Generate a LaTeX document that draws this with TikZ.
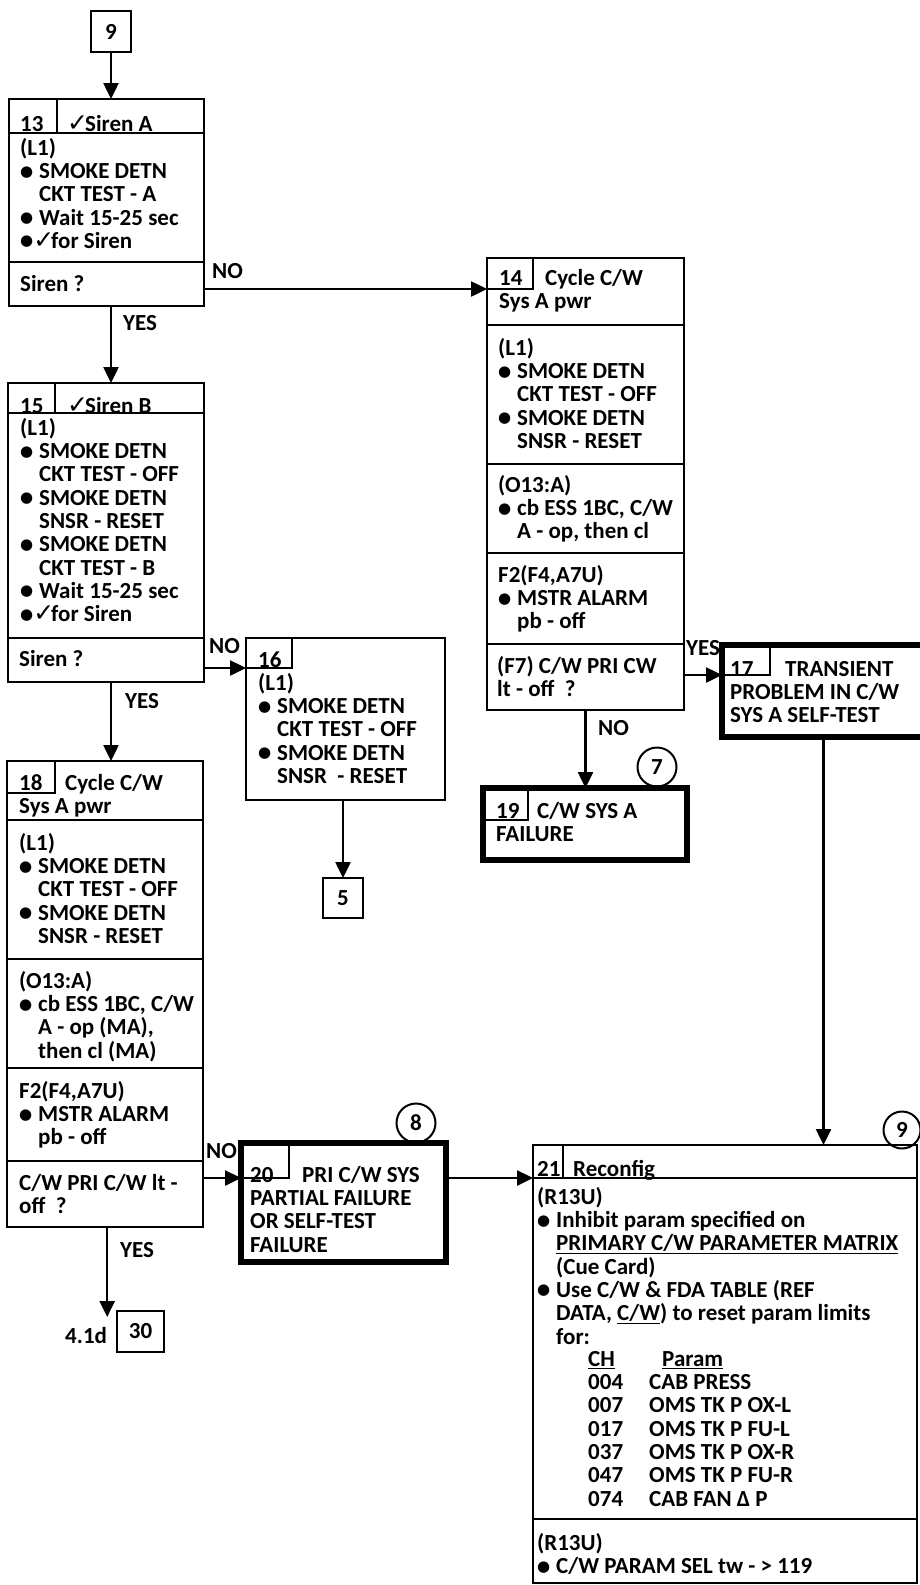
\documentclass[tikz,border=0pt]{standalone}
\usepackage{fontspec}
\setmainfont{Carlito}
\newfontfamily\symf{DejaVu Sans}
\usetikzlibrary{arrows.meta}
\newlength\itw \setlength\itw{19pt}
\newcommand\mybul{\raisebox{2.5pt}{\symf\fontsize{15}{15}\selectfont ●}}
\newcommand\mychk{{\symf\fontsize{25}{23}\selectfont ✓}\kern-3pt}
\newcommand\bitem[1]{\makebox[\itw][l]{\mybul}#1}
\newcommand\citem[1]{\hspace*{\itw}#1}
\newcommand\tst{\rule{0pt}{18pt}}
\begin{document}
\begin{tikzpicture}[x=1pt,y=-1pt,
  ftext/.style={font=\fontsize{23}{23.3}\selectfont\bfseries},
  box/.style={draw, line width=2.5pt, inner sep=0pt, outer sep=0pt, anchor=north west},
  tbox/.style={box, line width=6.5pt},
  cell/.style={box, line width=2pt},
  txt/.style={ftext, inner sep=0pt, anchor=north west, align=left},
  arr/.style={line width=2.5pt, -{Triangle[length=16pt,width=15pt]}},
  ln/.style={line width=2.5pt},
  circ/.style={draw, circle, line width=2pt, inner sep=0pt, minimum size=39pt, ftext},
  numbox/.style={box, ftext, align=center},
]
\useasboundingbox (0,0) rectangle (919,1585);

% ---------- boxes ----------
\node[numbox, minimum width=40pt, minimum height=41pt] (b9) at (91,11) {9};
\node[box, minimum width=195pt, minimum height=207pt] (b13) at (9,99) {};
\node[box, minimum width=197pt, minimum height=452pt] (b14) at (487,258) {};
\node[box, minimum width=196pt, minimum height=299pt] (b15) at (8,383) {};
\node[box, minimum width=199pt, minimum height=162pt] (b16) at (246,638) {};
\node[tbox, minimum width=203pt, minimum height=92pt] (b17) at (722,645) {};
\node[box, minimum width=196pt, minimum height=466pt] (b18) at (7,761) {};
\node[tbox, minimum width=204pt, minimum height=72pt] (b19) at (483,788) {};
\node[numbox, minimum width=40pt, minimum height=40pt] (b5) at (323,878) {5};
\node[tbox, minimum width=205pt, minimum height=119pt] (b20) at (241,1143) {};
\node[box, minimum width=384pt, minimum height=438pt] (b21) at (533,1145) {};
\node[numbox, minimum width=47pt, minimum height=41pt] (b30) at (117,1311) {30};

% number cells
\node[cell, minimum width=46pt, minimum height=31pt] (c14) at (487,258) {};
\node[cell, minimum width=46pt, minimum height=30pt] (c16) at (246,638) {};
\node[cell, minimum width=48pt, minimum height=30pt] (c17) at (722,645) {};
\node[cell, minimum width=48pt, minimum height=32pt] (c18) at (7,761) {};
\node[cell, minimum width=45pt, minimum height=32pt] (c19) at (483,788) {};
\node[cell, minimum width=48pt, minimum height=35pt] (c20) at (241,1143) {};

% separators
\draw[ln] (9,133) -- (204,133);
\draw[ln] (9,262) -- (204,262);
\draw[ln] (57,99) -- (57,133);
\draw[ln] (8,413) -- (204,413);
\draw[ln] (8,638) -- (204,638);
\draw[ln] (55,383) -- (55,413);
\draw[ln] (487,325) -- (684,325);
\draw[ln] (487,464) -- (684,464);
\draw[ln] (487,553) -- (684,553);
\draw[ln] (487,644) -- (684,644);
\draw[ln] (7,820) -- (203,820);
\draw[ln] (7,959) -- (203,959);
\draw[ln] (7,1068) -- (203,1068);
\draw[ln] (7,1161) -- (203,1161);
\draw[ln] (533,1178) -- (917,1178);
\draw[ln] (563,1145) -- (563,1178);
\draw[ln] (533,1519) -- (917,1519);

% circles
\node[circ] (k7) at (657,767) {7};
\node[circ] (k8) at (416,1123) {8};
\node[circ, minimum size=37pt] (k9) at (902,1130) {9};

% ---------- texts ----------
% box 13
\node[txt] (t13n) at (20,113) {\tst 13};
\node[txt] (t13h) at (67,113) {\tst\mychk Siren A};
\node[txt] (t13b) at (20,137) {\tst(L1)\\
\bitem{SMOKE DETN}\\
\citem{CKT TEST - A}\\
\bitem{Wait 15-25 sec}\\
\mybul\mychk for Siren};
\node[txt] (q13) at (20,273) {\tst Siren ?};

% box 15
\node[txt] (t15n) at (20,395) {\tst 15};
\node[txt] (t15h) at (67,395) {\tst\mychk Siren B};
\node[txt] (t15b) at (20,417) {\tst(L1)\\
\bitem{SMOKE DETN}\\
\citem{CKT TEST - OFF}\\
\bitem{SMOKE DETN}\\
\citem{SNSR - RESET}\\
\bitem{SMOKE DETN}\\
\citem{CKT TEST - B}\\
\bitem{Wait 15-25 sec}\\
\mybul\mychk for Siren};
\node[txt] (q15) at (19,648) {\tst Siren ?};

% box 14
\node[txt] (t14h) at (499,267) {\tst\makebox[46pt][l]{14}Cycle C/W\\Sys A pwr};
\node[txt] (t14a) at (498,337) {\tst(L1)\\
\bitem{SMOKE DETN}\\
\citem{CKT TEST - OFF}\\
\bitem{SMOKE DETN}\\
\citem{SNSR - RESET}};
\node[txt] (t14b) at (498,474) {\tst(O13:A)\\
\bitem{cb ESS 1BC, C/W}\\
\citem{A - op, then cl}};
\node[txt] (t14c) at (498,564) {\tst F2(F4,A7U)\\
\bitem{MSTR ALARM}\\
\citem{pb - off}};
\node[txt] (q14) at (497,655) {\tst(F7) C/W PRI CW\\lt - off~~?};

% box 16
\node[txt] (t16n) at (258,649) {\tst 16};
\node[txt] (t16b) at (258,672) {\tst(L1)\\
\bitem{SMOKE DETN}\\
\citem{CKT TEST - OFF}\\
\bitem{SMOKE DETN}\\
\citem{SNSR~ - RESET}};

% box 17
\node[txt] (t17) at (730,658) {\tst\makebox[55pt][l]{17}TRANSIENT\\PROBLEM IN C/W\\SYS A SELF-TEST};

% box 19
\node[txt] (t19) at (496,800) {\tst\makebox[41pt][l]{19}C/W SYS A\\FAILURE};

% box 18
\node[txt] (t18h) at (19,772) {\tst\makebox[46pt][l]{18}Cycle C/W\\Sys A pwr};
\node[txt] (t18a) at (19,832) {\tst(L1)\\
\bitem{SMOKE DETN}\\
\citem{CKT TEST - OFF}\\
\bitem{SMOKE DETN}\\
\citem{SNSR - RESET}};
\node[txt] (t18b) at (19,970) {\tst(O13:A)\\
\bitem{cb ESS 1BC, C/W}\\
\citem{A - op (MA),}\\
\citem{then cl (MA)}};
\node[txt] (t18c) at (19,1080) {\tst F2(F4,A7U)\\
\bitem{MSTR ALARM}\\
\citem{pb - off}};
\node[txt] (q18) at (19,1172) {\tst C/W PRI C/W lt -\\off~~?};

% box 20
\node[txt] (t20) at (250,1164) {\tst\makebox[52pt][l]{20}PRI C/W SYS\\PARTIAL FAILURE\\OR SELF-TEST\\FAILURE};

% box 21
\node[txt] (t21h) at (537,1158) {\tst\makebox[36pt][l]{21}Reconfig};
\node[txt] (t21a) at (537,1186) {\setlength\itw{16pt}\tst(R13U)\\
\bitem{Inhibit param specified on}\\
\citem{\underline{PRIMARY C/W PARAMETER MATRIX}}\\
\citem{(Cue Card)}\\
\bitem{Use C/W \& FDA TABLE (REF}\\
\citem{DATA, \underline{C/W}) to reset param limits}\\
\citem{for:}};
\node[txt] (t21c) at (588,1348) {\tst\underline{CH}\\004\\007\\017\\037\\047\\074};
\node[txt] (t21p) at (649,1348) {\tst\hspace*{13pt}\underline{Param}\\CAB PRESS\\OMS TK P OX-L\\OMS TK P FU-L\\OMS TK P OX-R\\OMS TK P FU-R\\CAB FAN Δ P};
\node[txt] (t21b) at (537,1532) {\setlength\itw{16pt}\tst(R13U)\\
\bitem{C/W PARAM SEL tw - > 119}};

% labels
\node[txt] (no13) at (212,260) {\tst NO};
\node[txt] (yes13) at (123,312) {\tst YES};
\node[txt] (no15) at (209,635) {\tst NO};
\node[txt] (yes15) at (125,690) {\tst YES};
\node[txt] (yes14) at (686,637) {\tst YES};
\node[txt] (no14) at (598,717) {\tst NO};
\node[txt] (no18) at (206,1140) {\tst NO};
\node[txt] (yes18) at (120,1239) {\tst YES};
\node[txt] (l41) at (65,1325) {\tst 4.1d};

% ---------- connectors ----------
\draw[arr] (b9.south) -- (b9.south |- b13.north);
\draw[arr] (b13.south -| b9.south) -- (b15.north -| b9.south);
\draw[arr] (b13.east |- c14.south) -- (c14.south west);
\draw[arr] (b15.east |- c16.south) -- (c16.south west);
\draw[arr] (b15.south -| b9.south) -- (b18.north -| b9.south);
\draw[arr] (b16.south -| b5.north) -- (b5.north);
\draw[arr] (b14.east |- c17.south) -- (c17.south west);
\draw[arr] (b14.south) -- (b14.south |- b19.north);
\draw[arr] (b17.south) -- (b17.south |- b21.north);
\draw[arr] (b18.east |- c20.south) -- (c20.south west);
\draw[arr] (b20.east |- c20.south) -- (b21.west |- c20.south);
\draw[arr] (b18.south -| l41.east) -- ([yshift=8pt]l41.north east);
\end{tikzpicture}
\end{document}
